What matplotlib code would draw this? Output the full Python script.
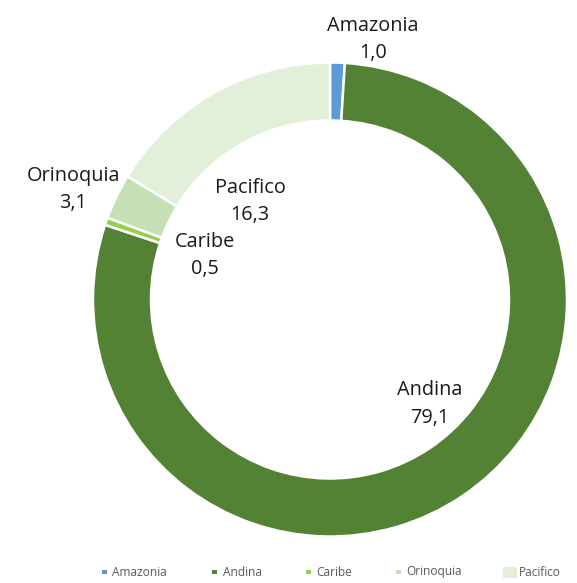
import matplotlib
matplotlib.use("Agg")
import matplotlib.pyplot as plt
from matplotlib.patches import Rectangle

regions = ["Amazonia", "Andina", "Caribe", "Orinoquia", "Pacifico"]
shares = [1.0, 79.1, 0.5, 3.1, 16.3]
colors = ["#5B9BD5", "#548235", "#92D050", "#C5E0B4", "#E2F0D9"]

W, H = 577, 583
fig = plt.figure(figsize=(W / 100, H / 100), dpi=100)
ax = fig.add_axes([0, 0, 1, 1])

cx, cy, r = 330, H - 299.5, 237
ax.pie(shares, colors=colors, startangle=90, counterclock=False,
       center=(cx, cy), radius=r, frame=True,
       wedgeprops=dict(width=58, edgecolor="white", linewidth=1.8))
ax.set_xlim(0, W)
ax.set_ylim(0, H)
ax.set_aspect("equal")
ax.axis("off")

# data label centres (pixels from the top-left corner)
label_pos = [(373, 39.5), (430, 404), (205, 255.5), (73, 189.5), (250, 201.5)]
for name, val, (px, py) in zip(regions, shares, label_pos):
    ax.text(px, H - py, f"{name}\n{val:.1f}".replace(".", ","),
            ha="center", va="center", fontsize=14.3, color="#1a1a1a",
            family="Open Sans", linespacing=1.5)

# legend row along the bottom edge
leg_y = 572
marker_x = [104, 214, 308, 398]
text_x = [112, 223, 316, 406, 519]
for mx, c in zip(marker_x, colors[:4]):
    fig.add_artist(Rectangle((mx - 2.5, H - leg_y - 2), 5, 4, facecolor=c,
                             edgecolor="none", transform=None))
fig.add_artist(Rectangle((503, H - leg_y - 5.5), 14, 11, facecolor=colors[4],
                         edgecolor="none", transform=None))
for tx, name in zip(text_x, regions):
    fig.text(tx / W, 1 - leg_y / H, name, ha="left", va="center",
             fontsize=8.6, color="#595959", family="Open Sans")

fig.savefig("out.png", dpi=100)
